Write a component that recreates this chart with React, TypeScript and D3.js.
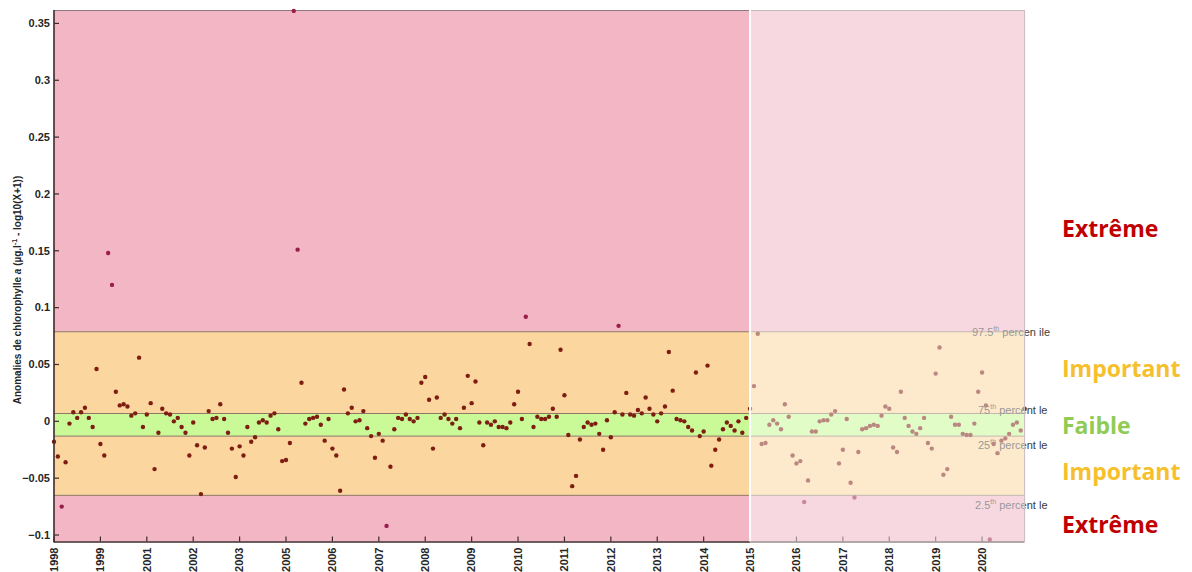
import React from "react";
import * as d3 from "d3";

// Monthly anomalies, 1998 -> 2015 (first tick to 2015 tick)
const anomaliesHistoric: number[] = [
  -0.018, -0.031, -0.075, -0.036, -0.002, 0.008, 0.003, 0.008, 0.012, 0.003, -0.005, 0.046, -0.020, -0.030,
  0.148, 0.120,
  0.026, 0.014, 0.015, 0.013, 0.005, 0.007, 0.056, -0.005, 0.006, 0.016, -0.042, -0.010, 0.011, 0.007, 0.006, 0.000,
  0.003, -0.005, -0.010, -0.030, -0.001, -0.021, -0.064, -0.023, 0.009, 0.002, 0.003, 0.015, 0.002, -0.010, -0.024,
  -0.049, -0.022, -0.030, -0.005, -0.018, -0.014, -0.001, 0.001, -0.001, 0.005, 0.007, -0.007, -0.035, -0.034, -0.019,
  0.361, 0.151, 0.034, -0.002, 0.002, 0.003, 0.004, -0.003, -0.017, 0.002, -0.024, -0.030, -0.061, 0.028, 0.007, 0.012,
  0.000, 0.001, 0.009, -0.006, -0.013, -0.032, -0.011, -0.017, -0.092, -0.040, -0.007, 0.003, 0.002, 0.006, 0.002, 0.000,
  0.003, 0.034, 0.039, 0.019, -0.024, 0.021, 0.003, 0.006, 0.002, -0.002, 0.002, -0.006, 0.012, 0.040, 0.016, 0.035,
  -0.001, -0.021, -0.001, -0.003, 0.000, -0.005, -0.005, -0.006, -0.001, 0.015, 0.026, 0.002, 0.092, 0.068,
  -0.005, 0.004, 0.002, 0.002, 0.004, 0.011, 0.004, 0.063, 0.023, -0.012, -0.057, -0.048, -0.016, -0.005, -0.001, -0.003,
  -0.002, -0.011, -0.025, 0.001, -0.014, 0.008, 0.084, 0.006, 0.025, 0.006, 0.005, 0.010, 0.007, 0.021, 0.011, 0.006,
  0.000, 0.007, 0.013, 0.061, 0.027, 0.002, 0.001, 0.000, -0.005, -0.008, 0.043, -0.013, -0.009, 0.049, -0.039, -0.025,
  -0.016, -0.007, -0.001, -0.004, -0.008, 0.000, -0.010, 0.003, 0.011,
];

// Monthly anomalies after 2015
const anomaliesRecent: number[] = [
  0.031, 0.077, -0.020, -0.019, -0.003, 0.001, -0.002, -0.007, 0.015, 0.004, -0.030, -0.037, -0.035, -0.071, -0.052,
  -0.009, -0.009, 0.000, 0.001, 0.001, 0.006, 0.009, -0.037, -0.025, 0.002, -0.054, -0.067, -0.027, -0.007, -0.006,
  -0.004, -0.003, -0.004, 0.005, 0.013, 0.011, -0.023, -0.027, 0.026, 0.003, -0.004, -0.009, -0.011, -0.006, 0.003,
  -0.019, -0.024, 0.042, 0.065, -0.047, -0.042, 0.004, -0.003, -0.003, -0.011, -0.012, -0.012, -0.002, 0.026, 0.043,
  0.014, -0.104, -0.020, -0.028, -0.017, -0.015, -0.011, -0.003, -0.001, -0.008, 0.011,
];

const xTickLabels = [
  "1998", "1999", "2001", "2002", "2003", "2005", "2006", "2007", "2008", "2009", "2010",
  "2011", "2012", "2013", "2014", "2015", "2016", "2017", "2018", "2019", "2020",
];
const yTicks = [-0.1, -0.05, 0, 0.05, 0.1, 0.15, 0.2, 0.25, 0.3, 0.35];

const percentileNames = ["97.5", "75", "25", "2.5"];
const percentileValues = [0.0788, 0.0069, -0.013, -0.0651];
const percentileTails = [" percen ile", " percent le", " percent le", " percent le"];

const classLabels = ["Extrême", "Important", "Faible", "Important", "Extrême"];
const classColors = ["#C00000", "#F6C02C", "#8FCB55", "#F6C02C", "#C00000"];

export default function App() {
  const W = 1192, H = 572;
  const all = [...anomaliesHistoric, ...anomaliesRecent];
  const splitIndex = anomaliesHistoric.length - 1; // 2015 tick
  const x = d3.scaleLinear().domain([0, all.length - 1]).range([54, 1024.6]);
  const y = d3.scaleLinear().domain([-0.1057, 0.3618]).range([541.5, 10]);
  const [y0, y1] = y.domain();
  const left = x.range()[0], right = x.range()[1];
  const top = y.range()[1], bottom = y.range()[0];
  const [p975, p75, p25, p25b] = percentileValues;

  const bands = [
    { a: y1, b: p975, c: "#F2B6C5" },
    { a: p975, b: p75, c: "#FCD69F" },
    { a: p75, b: p25, c: "#C9FA97" },
    { a: p25, b: p25b, c: "#FCD69F" },
    { a: p25b, b: y0, c: "#F2B6C5" },
  ];
  const splitX = x(splitIndex);
  const font = "'Liberation Sans', Arial, sans-serif";

  const ptColor = (v: number) => (v > p975 || v < p25b ? "#9A1E4C" : "#7E1D12");

  const classY = [237, 377, 434, 480, 533];
  const pctLabelX = [972, 978, 978, 975];
  const pctLabelDy = [4, 1, 13, 14];

  return (
    <svg width={W} height={H} style={{ position: "absolute", left: 0, top: 0, background: "#fff" }}>
      {bands.map((b, i) => (
        <rect key={i} x={left} width={right - left} y={y(b.a)} height={y(b.b) - y(b.a)} fill={b.c} />
      ))}
      {percentileValues.map((v, i) => (
        <line key={i} x1={left} x2={right} y1={y(v)} y2={y(v)} stroke="#8E7866" strokeWidth={1} />
      ))}
      <line x1={left} x2={right} y1={top + 0.5} y2={top + 0.5} stroke="#8A7A80" strokeWidth={1} />
      {all.map((v, i) => (
        <circle key={i} cx={x(i)} cy={y(v)} r={2.2} fill={ptColor(v)} />
      ))}
      {percentileNames.map((n, i) => (
        <text key={i} x={pctLabelX[i]} y={y(percentileValues[i]) + pctLabelDy[i]} fontFamily={font} fontSize={11} fill="#3A3A3A">
          {n}
          <tspan fontSize={7} dy={-5}>th</tspan>
          <tspan dy={5}>{percentileTails[i]}</tspan>
        </text>
      ))}
      {/* axes */}
      <line x1={left} x2={left} y1={top} y2={bottom + 1} stroke="#3F2A2A" strokeWidth={1.6} />
      <line x1={left} x2={right} y1={bottom + 0.5} y2={bottom + 0.5} stroke="#3F2A2A" strokeWidth={1.6} />
      {yTicks.map((t) => (
        <line key={t} x1={left} x2={left + 5} y1={y(t)} y2={y(t)} stroke="#3F2A2A" strokeWidth={1.2} />
      ))}
      {xTickLabels.map((l, i) => (
        <line key={l} x1={x(i * 12)} x2={x(i * 12)} y1={bottom} y2={bottom - 5} stroke="#3F2A2A" strokeWidth={1.2} />
      ))}
      {/* 2015 separator and faded recent period */}
      <rect x={splitX} y={top - 1} width={right - splitX + 0.5} height={bottom - top + 3} fill="#FFFFFF" opacity={0.47} />
      <line x1={splitX} x2={splitX} y1={top} y2={bottom} stroke="#FFFFFF" strokeWidth={2} />
      <line x1={right} x2={right} y1={top} y2={bottom} stroke="#C8BCC0" strokeWidth={1} />
      {/* tick labels */}
      {yTicks.map((t) => (
        <text key={t} x={left - 4} y={y(t)} dy="0.35em" textAnchor="end" fontFamily={font} fontWeight="bold" fontSize={11} fill="#262626">
          {d3.format("")(t)}
        </text>
      ))}
      {xTickLabels.map((l, i) => (
        <text key={l} transform={`translate(${x(i * 12)},${bottom + 6}) rotate(-90)`} dy="0.35em" textAnchor="end" fontFamily={font} fontWeight="bold" fontSize={11} fill="#262626">
          {l}
        </text>
      ))}
      <text transform="translate(17,290) rotate(-90)" dy="0.35em" textAnchor="middle" fontFamily={font} fontWeight="bold" fontSize={10} fill="#262626">
        Anomalies de chlorophylle <tspan fontStyle="italic">a</tspan> (µg.l<tspan fontSize={7} dy={-4}>-1</tspan><tspan dy={4}> - log10(X+1))</tspan>
      </text>
      {classLabels.map((l, i) => (
        <text key={i} x={1062} y={classY[i]} fontFamily="'Open Sans', sans-serif" fontWeight="bold" fontSize={23} fill={classColors[i]}>
          {l}
        </text>
      ))}
    </svg>
  );
}
